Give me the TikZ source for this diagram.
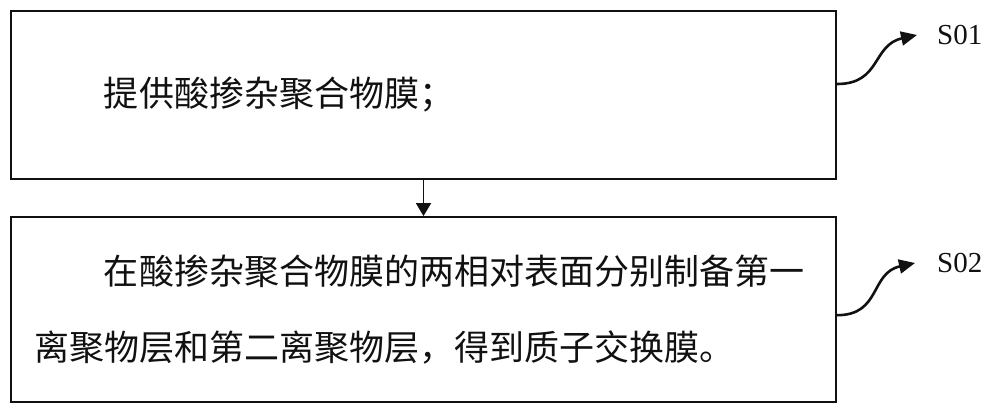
\documentclass[tikz,border=0pt]{standalone}
\usepackage{fontspec}
\setmainfont{Liberation Serif}
\newfontfamily\cjkfont{Noto Sans CJK SC}
\usetikzlibrary{arrows.meta,positioning}
\definecolor{StepInk}{HTML}{111111}

\begin{document}
\begin{tikzpicture}[
    x=1pt, y=-1pt,
    stepbox/.style={
        draw=StepInk,
        line width=2.2pt,
        text width=779pt,
        inner xsep=23pt,
        align=left,
        font=\cjkfont\fontsize{35}{76}\selectfont,
        text=StepInk
    },
    flow/.style={-{Triangle[length=13pt,width=15pt]},
                 draw=StepInk, line width=1.8pt},
    tag/.style={-{Triangle[length=16pt,width=14pt]},
                draw=StepInk, line width=2.6pt},
    tag label/.style={inner sep=0pt, anchor=west,
                      font=\fontsize{29}{30}\selectfont, text=StepInk}
]
    \useasboundingbox (0,0) rectangle (1000,414);

    \node[stepbox, minimum height=168pt] (box1) at (423.5,95)
        {\hspace*{2em}提供酸掺杂聚合物膜；};
    \node[stepbox, minimum height=185pt, below=36pt of box1] (box2)
        {\hspace*{2em}在酸掺杂聚合物膜的两相对表面分别制备第一\\
         离聚物层和第二离聚物层，得到质子交换膜。};

    \draw[flow] (box1.south) -- (box2.north);

    \node[tag label] (s1) at (937,35) {S01};
    \node[tag label] (s2) at (937,263) {S02};

    \draw[tag] ([yshift=11pt]box1.east) .. controls +(44,0) and +(-45,10)
        .. ([xshift=-20pt]s1.west);
    \draw[tag] ([yshift=-5.5pt]box2.east) .. controls +(44,0) and +(-45,10)
        .. ([xshift=-22pt]s2.west);
\end{tikzpicture}
\end{document}
